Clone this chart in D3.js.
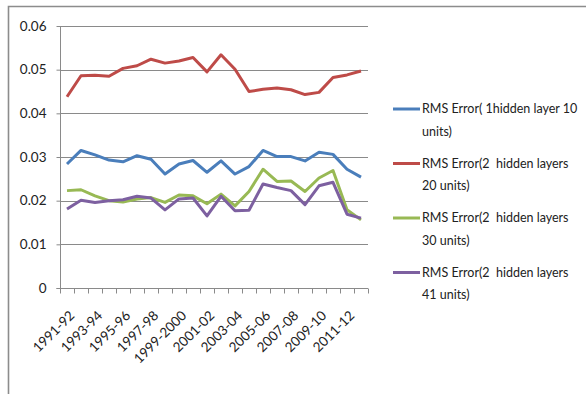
<!DOCTYPE html>
<html>
<head>
<meta charset="utf-8">
<script src="https://cdn.jsdelivr.net/npm/d3@7"></script>
<style>
  html, body { margin: 0; padding: 0; background: #fff; }
  svg { display: block; }
  text { font-family: Lato, "Open Sans", "Liberation Sans", sans-serif; fill: #222; }
</style>
</head>
<body>
<svg id="chart" width="586" height="394"></svg>
<script>
// Seasons on the x axis
const years = [
  "1991-92","1992-93","1993-94","1994-95","1995-96","1996-97","1997-98","1998-99",
  "1999-2000","2000-01","2001-02","2002-03","2003-04","2004-05","2005-06","2006-07",
  "2007-08","2008-09","2009-10","2010-11","2011-12","2012-13"
];

// RMS error per network configuration
const rms1h10 = [0.0284,0.0315,0.0305,0.0293,0.0289,0.0303,0.0295,0.0261,0.0284,0.0292,
                 0.0265,0.0291,0.0261,0.0278,0.0315,0.0301,0.0301,0.0291,0.0311,0.0306,0.0272,0.0254];
const rms2h20 = [0.0438,0.0486,0.0487,0.0485,0.0503,0.0509,0.0524,0.0515,0.0520,0.0528,
                 0.0495,0.0534,0.0501,0.0450,0.0455,0.0458,0.0454,0.0443,0.0448,0.0482,0.0488,0.0497];
const rms2h30 = [0.0223,0.0225,0.0211,0.0200,0.0197,0.0204,0.0207,0.0196,0.0213,0.0211,
                 0.0193,0.0215,0.0188,0.0221,0.0272,0.0244,0.0245,0.0221,0.0252,0.0269,0.0179,0.0156];
const rms2h41 = [0.0181,0.0201,0.0196,0.0200,0.0202,0.0210,0.0206,0.0179,0.0204,0.0206,
                 0.0165,0.0210,0.0177,0.0178,0.0238,0.0230,0.0223,0.0191,0.0234,0.0242,0.0169,0.0160];

const seriesNames = [
  ["RMS Error( 1hidden layer 10", "units)"],
  ["RMS Error(2\u00a0 hidden layers", "20 units)"],
  ["RMS Error(2\u00a0 hidden layers", "30 units)"],
  ["RMS Error(2\u00a0 hidden layers", "41 units)"]
];
const seriesColors = ["#4a7ebb", "#be4b48", "#98b954", "#7d60a0"];
const yTicks = [0, 0.01, 0.02, 0.03, 0.04, 0.05, 0.06];

const series = [rms1h10, rms2h20, rms2h30, rms2h41].map((v, i) => ({
  name: seriesNames[i], color: seriesColors[i], values: v
}));

const svg = d3.select("#chart");

// Outer chart frame (top and left edges)
svg.append("path")
  .attr("d", "M8.5,394 V6.5 H586")
  .attr("fill", "none")
  .attr("stroke", "#8c8c8c")
  .attr("stroke-width", 1.6);

const plot = { left: 60, right: 368, top: 26, bottom: 288 };

const x = d3.scaleBand().domain(years).range([plot.left, plot.right]);
const y = d3.scaleLinear().domain([0, 0.06]).range([plot.bottom, plot.top]);

// Horizontal gridlines
svg.append("g")
  .selectAll("line")
  .data(yTicks.filter(t => t > 0))
  .join("line")
  .attr("x1", plot.left).attr("x2", plot.right)
  .attr("y1", d => Math.round(y(d)) + 0.5).attr("y2", d => Math.round(y(d)) + 0.5)
  .attr("stroke", "#8a8a8a")
  .attr("stroke-width", 1);

// Y axis
const yAxis = svg.append("g")
  .attr("transform", `translate(${plot.left + 0.5},0)`)
  .call(d3.axisLeft(y).tickValues(yTicks).tickSize(4).tickPadding(10)
    .tickFormat(d => d === 0 ? "0" : d3.format(".2f")(d)));
yAxis.select(".domain").attr("stroke", "#8a8a8a").attr("d", `M-4,${y(0) + 0.5}H0V${plot.top}`);
yAxis.selectAll(".tick line").attr("stroke", "#8a8a8a");
yAxis.selectAll(".tick text").style("font-size", "13.5px").attr("fill", "#222");

// X axis with tick marks at category boundaries
const xg = svg.append("g").attr("transform", `translate(0,${Math.round(y(0)) + 0.5})`);
xg.append("line").attr("x1", plot.left).attr("x2", plot.right)
  .attr("stroke", "#8a8a8a");
xg.selectAll("line.tk")
  .data(years.map(d => x(d)).concat([plot.right]))
  .join("line").attr("class", "tk")
  .attr("x1", d => Math.round(d) + 0.5).attr("x2", d => Math.round(d) + 0.5)
  .attr("y1", 0).attr("y2", 5)
  .attr("stroke", "#8a8a8a");

// Rotated labels on every other season
svg.append("g")
  .selectAll("text")
  .data(years.filter((d, i) => i % 2 === 0))
  .join("text")
  .attr("transform", d => `translate(${x(d) + x.bandwidth() / 2 + 5},${plot.bottom + 25}) rotate(-45)`)
  .attr("text-anchor", "end")
  .attr("dy", "0.35em")
  .style("font-size", "13.5px")
  .text(d => d);

// Series lines
const line = d3.line()
  .x((d, i) => x(years[i]) + x.bandwidth() / 2)
  .y(d => y(d));

svg.append("g")
  .selectAll("path")
  .data(series)
  .join("path")
  .attr("d", d => line(d.values))
  .attr("fill", "none")
  .attr("stroke", d => d.color)
  .attr("stroke-width", 3)
  .attr("stroke-linejoin", "round");

// Legend
const legend = svg.append("g");
const entry = legend.selectAll("g")
  .data(series)
  .join("g")
  .attr("transform", (d, i) => `translate(0,${109 + i * 54.5})`);
entry.append("line")
  .attr("x1", 393).attr("x2", 420)
  .attr("stroke", d => d.color)
  .attr("stroke-width", 3);
entry.append("text")
  .attr("x", 422).attr("y", 0).attr("dy", "0.35em")
  .style("font-size", "12.5px")
  .text(d => d.name[0]);
entry.append("text")
  .attr("x", 422).attr("y", 22.5).attr("dy", "0.35em")
  .style("font-size", "12.5px")
  .text(d => d.name[1]);
</script>
</body>
</html>
